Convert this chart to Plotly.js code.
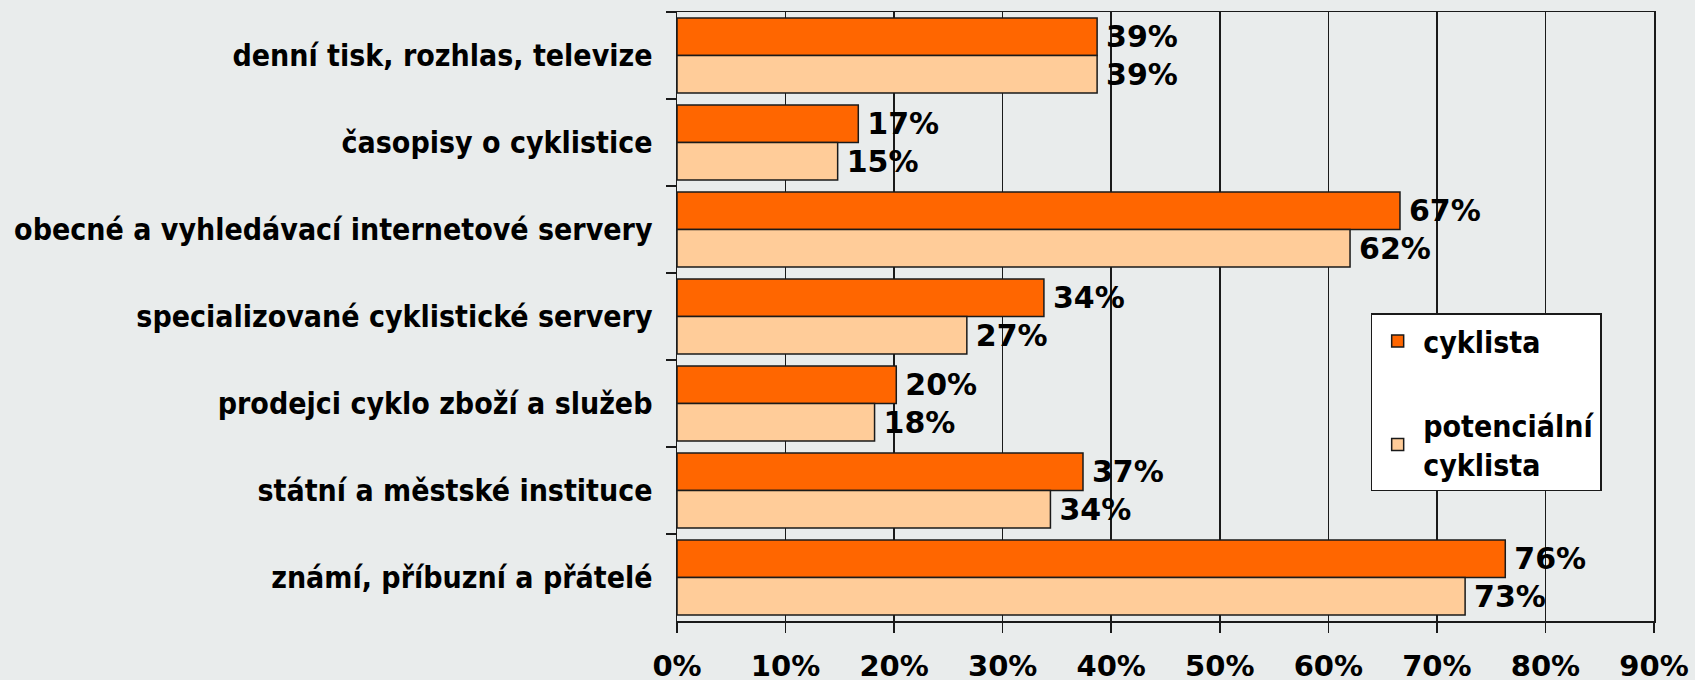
<!DOCTYPE html>
<html>
<head>
<meta charset="utf-8">
<script src="https://cdn.plot.ly/plotly-3.0.1.min.js"></script>
<style>
  html, body { margin: 0; padding: 0; background: #e9ecec; }
  #chart { width: 1695px; height: 680px; }
</style>
</head>
<body>
<div id="chart"></div>
<script>
// Sources of information about cycling — share of respondents (%)
const CATEGORIES = [
  'denní tisk, rozhlas, televize',
  'časopisy o cyklistice',
  'obecné a vyhledávací internetové servery',
  'specializované cyklistické servery',
  'prodejci cyklo zboží a služeb',
  'státní a městské instituce',
  'známí, příbuzní a přátelé',
];
const CYKLISTA = [38.7, 16.7, 66.6, 33.8, 20.2, 37.4, 76.3];
const POTENCIALNI = [38.7, 14.8, 62.0, 26.7, 18.2, 34.4, 72.6];
const SERIES_NAMES = ['cyklista', 'potenciální<br>cyklista'];
const X_TICKS = [0, 10, 20, 30, 40, 50, 60, 70, 80, 90];

const BG = '#e9ecec', INK = '#1a1a1a';
const FONT_LABEL = '"DejaVu Sans Condensed", "DejaVu Sans", sans-serif';
const FONT_NUM = '"DejaVu Sans", sans-serif';

function barTrace(name, values, color, group) {
  return {
    type: 'bar', orientation: 'h', name, legendgroup: group,
    x: values, y: CATEGORIES,
    marker: { color, line: { color: INK, width: 1.5 } },
    texttemplate: '\u2009%{x:.0f}%', textposition: 'outside',
    textfont: { family: FONT_NUM, size: 30, color: '#000', weight: 'bold' },
    constraintext: 'none', cliponaxis: false, hoverinfo: 'skip',
  };
}

const traces = [
  barTrace(SERIES_NAMES[0], CYKLISTA, '#ff6600', 'a'),
  barTrace(SERIES_NAMES[1], POTENCIALNI, '#ffcc99', 'b'),
];

const layout = {
  width: 1695, height: 680,
  paper_bgcolor: BG, plot_bgcolor: BG,
  margin: { l: 677, r: 41, t: 12, b: 59 },
  barmode: 'group', bargap: 0.14, bargroupgap: 0,
  showlegend: true,
  legend: {
    x: 0.71, y: 0.505, xanchor: 'left', yanchor: 'top',
    bgcolor: '#ffffff', bordercolor: INK, borderwidth: 1.5,
    traceorder: 'grouped', tracegroupgap: 42, itemwidth: 41,
    font: { family: FONT_LABEL, size: 30, color: '#000', weight: 'bold' },
  },
  xaxis: {
    range: [0, 90], tickvals: X_TICKS, ticktext: X_TICKS.map((v) => v + '%'),
    showgrid: true, gridcolor: INK, gridwidth: 1.5,
    showline: true, linecolor: INK, linewidth: 1.5, mirror: true,
    ticks: 'outside', ticklen: 10, tickcolor: INK, tickwidth: 1.5,
    zeroline: false, fixedrange: true,
    tickfont: { family: FONT_NUM, size: 29, color: '#000', weight: 'bold' },
    ticklabelstandoff: 9,
  },
  yaxis: {
    type: 'category', autorange: 'reversed',
    showgrid: false, showline: true, linecolor: INK, linewidth: 1.5, mirror: true,
    ticks: 'outside', ticklen: 10, tickcolor: INK, tickwidth: 1.5, tickson: 'boundaries',
    tickfont: { family: FONT_LABEL, size: 30, color: '#000', weight: 'bold' },
    ticklabelstandoff: 17, fixedrange: true,
  },
};

Plotly.newPlot('chart', traces, layout, { staticPlot: true, displayModeBar: false });
</script>
</body>
</html>
